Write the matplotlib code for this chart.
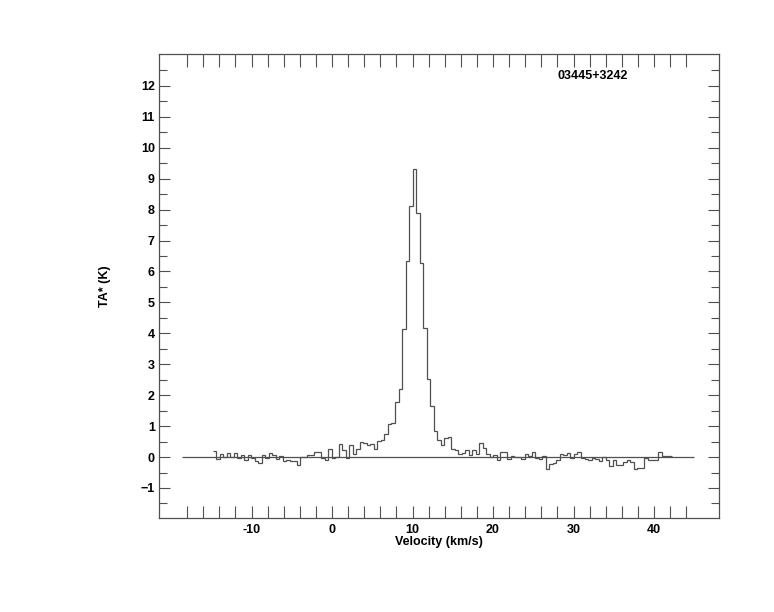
import numpy as np
import matplotlib.pyplot as plt

plt.rcParams['font.family'] = ['Liberation Sans', 'DejaVu Sans']
plt.rcParams['font.weight'] = 'bold'

# spectrum channels (TA*, K)
v_start = -14.85   # km/s, left edge of first channel
dv = 0.436         # km/s per channel

wing_left = [0.2, -0.07, 0.1, 0.0, 0.12, 0.0, 0.12, -0.03, 0.08, -0.09,
             0.08, -0.03, -0.12, -0.18, 0.08, -0.03, 0.12, 0.08, -0.06, 0.02,
             -0.12, -0.1, -0.14, -0.14, -0.25, 0.0, -0.01, 0.06, 0.08, 0.16]
rise = [0.15, -0.02, -0.1, 0.25, -0.03, 0.0, 0.42, 0.23, -0.04, 0.38,
        0.1, 0.26, 0.5, 0.46, 0.38, 0.42, 0.25, 0.52, 0.55, 0.74, 1.06, 1.09]
peak = [1.77, 2.19, 4.13, 6.34, 8.12, 9.32, 7.9, 6.27, 4.17, 2.52, 1.65]
fall = [0.84, 0.55, 0.39, 0.63, 0.65, 0.26, 0.23, 0.1, 0.12, 0.22,
        0.06, 0.22, 0.11, 0.44, 0.28, 0.09, 0.0, 0.06, -0.11, 0.15,
        0.17, -0.06, 0.04, 0.0, 0.0, -0.06, 0.09, 0.04, 0.17, -0.04,
        -0.06, 0.04]
wing_right = [-0.39, -0.23, -0.19, -0.1, 0.09, 0.06, 0.12, -0.04, 0.1, 0.15,
              -0.04, -0.06, -0.1, -0.04, -0.06, -0.13, 0.0, -0.1, -0.29, -0.08,
              -0.26, -0.26, -0.15, -0.11, -0.17, -0.37, -0.35, -0.35, -0.02, -0.1,
              -0.08, -0.11, 0.15, 0.02, 0.04, 0.05]

ta = np.array(wing_left + rise + peak + fall + wing_right)
edges = v_start + dv * np.arange(len(ta) + 1)

source = '03445+3242'
base_from, base_to = -18.6, 45.0

xmajor = [-10, 0, 10, 20, 30, 40]
xticks = np.arange(-18, 45, 2)
yticks = np.arange(-1, 13, 1)
yminor = np.arange(-1.5, 13, 1)

fig = plt.figure(figsize=(7.74, 6.12), dpi=100)
ax = fig.add_axes([0.2054, 0.1536, 0.7235, 0.7582])

lc = '#505050'
ax.stairs(ta, edges, baseline=None, color=lc, linewidth=0.9)
ax.hlines(0, base_from, base_to, color=lc, linewidth=0.9)

ax.set_xlim(-21.5, 48.07)
ax.set_ylim(-1.97, 13.03)

ax.set_xticks(xticks)
ax.set_xticklabels([str(t) if t in xmajor else '' for t in xticks])
ax.set_yticks(yticks)
ax.set_yticks(yminor, minor=True)

ax.tick_params(axis='both', which='both', direction='in', top=True, right=True,
               colors=lc, labelcolor='black', labelsize=9, width=0.8)
ax.tick_params(axis='x', which='major', length=9, pad=4)
ax.tick_params(axis='y', which='major', length=8, pad=3)
ax.tick_params(axis='y', which='minor', length=6)
for s in ax.spines.values():
    s.set_color(lc)
    s.set_linewidth(0.9)

ax.set_xlabel('Velocity (km/s)', fontsize=9, fontweight='bold', labelpad=0)
ax.set_ylabel('TA* (K)', fontsize=9, fontweight='bold', labelpad=21)

ax.text(0.711, 0.953, source, transform=ax.transAxes, fontsize=9,
        fontweight='bold', ha='left', va='center')

fig.savefig('out.png', dpi=100)
